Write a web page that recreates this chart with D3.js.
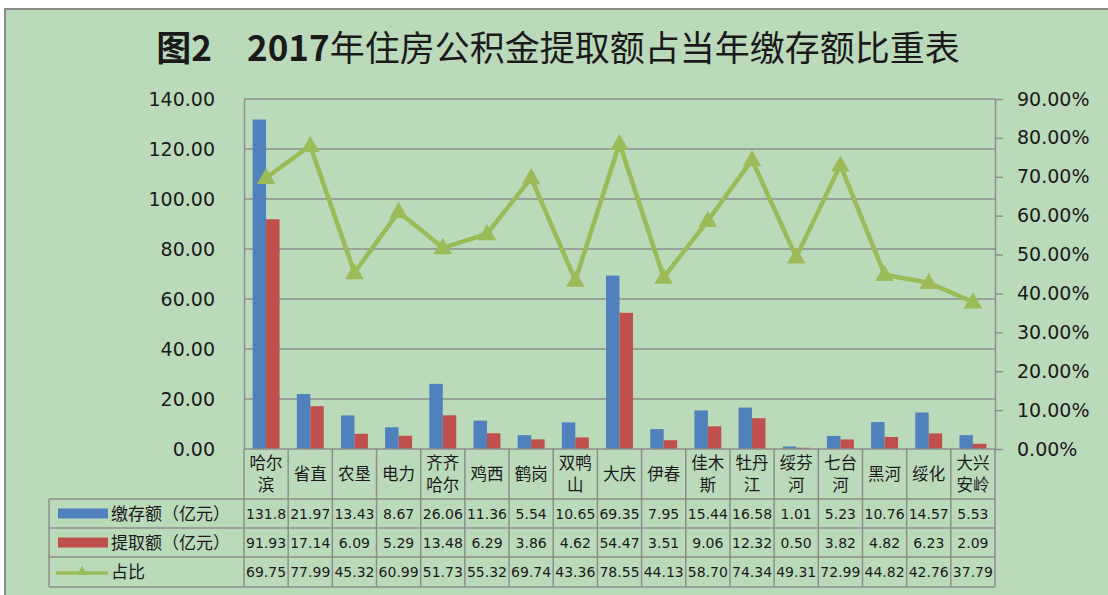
<!DOCTYPE html>
<html>
<head>
<meta charset="utf-8">
<script src="https://cdn.jsdelivr.net/npm/d3@7"></script>
<style>
  body { margin: 0; background: #fff; }
  text { font-family: "DejaVu Sans", sans-serif; fill: #1a1a1a; }
  .cjk { font-family: "Noto Sans CJK SC", sans-serif; }
</style>
</head>
<body>
<svg id="chart" width="1108" height="595"></svg>
<script>
const categories = ['哈尔滨','省直','农垦','电力','齐齐哈尔','鸡西','鹤岗','双鸭山','大庆','伊春','佳木斯','牡丹江','绥芬河','七台河','黑河','绥化','大兴安岭'];
const catLines = [['哈尔','滨'],['省直'],['农垦'],['电力'],['齐齐','哈尔'],['鸡西'],['鹤岗'],['双鸭','山'],['大庆'],['伊春'],['佳木','斯'],['牡丹','江'],['绥芬','河'],['七台','河'],['黑河'],['绥化'],['大兴','安岭']];
const deposit = [131.8,21.97,13.43,8.67,26.06,11.36,5.54,10.65,69.35,7.95,15.44,16.58,1.01,5.23,10.76,14.57,5.53];
const withdraw = [91.93,17.14,6.09,5.29,13.48,6.29,3.86,4.62,54.47,3.51,9.06,12.32,0.50,3.82,4.82,6.23,2.09];
const ratio = [69.75,77.99,45.32,60.99,51.73,55.32,69.74,43.36,78.55,44.13,58.70,74.34,49.31,72.99,44.82,42.76,37.79];
const leftTicks = [0,20,40,60,80,100,120,140];
const rightTicks = [0,10,20,30,40,50,60,70,80,90];
const seriesNames = ['缴存额（亿元）','提取额（亿元）','占比'];

const blue = '#4F81BD', red = '#C0504D', green = '#9BBB59', grid = '#8E8E8E';
const plot = {left: 244, right: 995, top: 99, bottom: 449};
const rows = [499, 528, 557, 587];

const svg = d3.select('#chart');

// chart area background
svg.append('rect').attr('x', 5).attr('y', 9).attr('width', 1110).attr('height', 600)
  .attr('fill', '#BBDABA').attr('stroke', '#8a8a8a').attr('stroke-width', 2);

// title: bold figure number, lighter chinese
const title = svg.append('text').attr('class', 'cjk')
  .attr('x', 558).attr('y', 61)
  .attr('text-anchor', 'middle')
  .style('font-size', '35px');
title.append('tspan').style('font-weight', 'bold').text('图2');
title.append('tspan').text('　');
title.append('tspan').style('font-weight', 'bold').text('2017');
title.append('tspan').style('font-weight', 'normal').text('年住房公积金提取额占当年缴存额比重表');

const x = d3.scaleBand().domain(categories).range([plot.left, plot.right]);
const x1 = d3.scaleBand().domain(['d','w']).range([0, x.bandwidth()]).paddingOuter(0.64);
const y = d3.scaleLinear().domain([0, 140]).range([plot.bottom, plot.top]);
const y2 = d3.scaleLinear().domain([0, 90]).range([plot.bottom, plot.top]);

// gridlines
svg.append('g').selectAll('line').data(leftTicks.slice(1)).join('line')
  .attr('x1', plot.left).attr('x2', plot.right)
  .attr('y1', d => y(d)).attr('y2', d => y(d))
  .attr('stroke', grid).attr('stroke-width', 1.5);

// left axis
const gl = svg.append('g').attr('transform', `translate(${plot.left},0)`)
  .call(d3.axisLeft(y).tickValues(leftTicks).tickSize(0).tickPadding(29).tickFormat(d3.format('.2f')));
gl.select('.domain').attr('stroke', grid).attr('stroke-width', 1.5);
gl.selectAll('text').style('font-size', '19px').attr('font-family', null).attr('fill', '#1a1a1a');

// right axis
const gr = svg.append('g').attr('transform', `translate(${plot.right},0)`)
  .call(d3.axisRight(y2).tickValues(rightTicks).tickSize(8).tickSizeOuter(0).tickPadding(14).tickFormat(d => d.toFixed(2) + '%'));
gr.select('.domain').attr('stroke', grid).attr('stroke-width', 1.5);
gr.selectAll('line').attr('stroke', grid).attr('stroke-width', 1.5);
gr.selectAll('text').style('font-size', '19px').attr('font-family', null).attr('fill', '#1a1a1a');

// bars
const bars = svg.append('g');
bars.selectAll('.dep').data(deposit).join('rect').attr('class', 'dep')
  .attr('x', (d, i) => x(categories[i]) + x1('d')).attr('width', x1.bandwidth())
  .attr('y', d => y(d)).attr('height', d => y(0) - y(d)).attr('fill', blue);
bars.selectAll('.wd').data(withdraw).join('rect').attr('class', 'wd')
  .attr('x', (d, i) => x(categories[i]) + x1('w')).attr('width', x1.bandwidth())
  .attr('y', d => y(d)).attr('height', d => y(0) - y(d)).attr('fill', red);

// ratio line
const cx = (d, i) => x(categories[i]) + x.bandwidth() / 2;
svg.append('path').datum(ratio)
  .attr('d', d3.line().x(cx).y(d => y2(d)))
  .attr('fill', 'none').attr('stroke', green).attr('stroke-width', 4.5).attr('stroke-linejoin', 'round');
const tri = d3.symbol().type(d3.symbolTriangle).size(150);
svg.append('g').selectAll('path').data(ratio).join('path')
  .attr('d', tri)
  .attr('transform', (d, i) => `translate(${cx(d, i)},${y2(d) + 1})`)
  .attr('fill', green);

// table
const tbl = svg.append('g');
const ln = (x1_, y1_, x2_, y2_) => tbl.append('line')
  .attr('x1', x1_).attr('y1', y1_).attr('x2', x2_).attr('y2', y2_)
  .attr('stroke', grid).attr('stroke-width', 1.5);

ln(plot.left, plot.bottom, plot.right, plot.bottom);
rows.forEach(r => ln(49, r, plot.right, r));
ln(49, rows[0], 49, rows[3]);
x.domain().forEach(c => ln(x(c), plot.bottom, x(c), rows[3]));
ln(plot.right, plot.bottom, plot.right, rows[3]);

// category labels, one text per line
catLines.forEach((lines, i) => {
  const c = x(categories[i]) + x.bandwidth() / 2;
  const y0 = lines.length === 1 ? 480 : 469;
  lines.forEach((s, j) => tbl.append('text').attr('class', 'cjk')
    .attr('x', c).attr('y', y0 + j * 22)
    .attr('text-anchor', 'middle').style('font-size', '16.5px')
    .text(s));
});

// value rows
const fmt = v => v.toFixed(2).slice(0, 5);
[deposit, withdraw, ratio].forEach((arr, r) => {
  tbl.selectAll(null).data(arr).join('text')
    .attr('x', (d, i) => x(categories[i]) + x.bandwidth() / 2)
    .attr('y', (rows[r] + rows[r + 1]) / 2 + 5)
    .attr('text-anchor', 'middle').style('font-size', '14px')
    .text(fmt);
});

// legend cells
seriesNames.forEach((s, r) => {
  const cy = (rows[r] + rows[r + 1]) / 2;
  if (r < 2) {
    tbl.append('rect').attr('x', 58).attr('y', cy - 5).attr('width', 50).attr('height', 10)
      .attr('fill', r === 0 ? blue : red);
  } else {
    tbl.append('line').attr('x1', 56).attr('x2', 108).attr('y1', cy + 1).attr('y2', cy + 1)
      .attr('stroke', green).attr('stroke-width', 3.5);
    tbl.append('path').attr('d', d3.symbol().type(d3.symbolTriangle).size(50))
      .attr('transform', `translate(82,${cy})`).attr('fill', green);
  }
  tbl.append('text').attr('class', 'cjk')
    .attr('x', 111).attr('y', cy + 6).style('font-size', '17px').text(s);
});
</script>
</body>
</html>
